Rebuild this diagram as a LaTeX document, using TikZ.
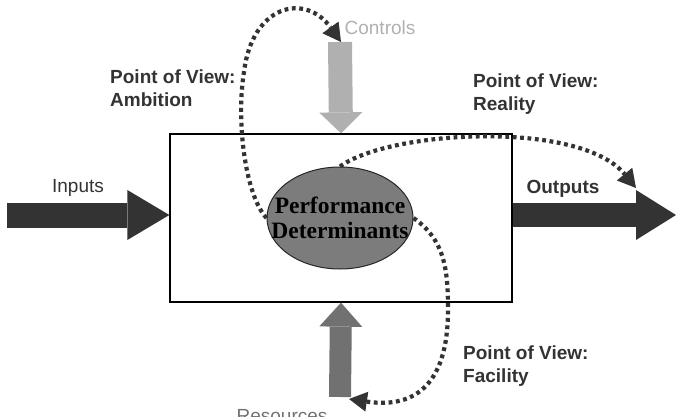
\documentclass[tikz,border=0pt]{standalone}
\usepackage{fontspec}
\setmainfont{Liberation Sans}
\newfontfamily\detfont{Liberation Serif}
\usetikzlibrary{positioning, arrows.meta, shapes.geometric}

\definecolor{darkarrow}{HTML}{333333}
\definecolor{ctrlgray}{HTML}{B0B0B0}
\definecolor{resgray}{HTML}{717171}
\definecolor{pdgray}{HTML}{7C7C7C}

\tikzset{
    sysbox/.style={draw=black, line width=1.3pt, minimum width=342pt, minimum height=168pt, inner sep=0pt},
    pdnode/.style={ellipse, draw=black!85, line width=1pt, fill=pdgray, minimum width=146pt, minimum height=102pt,
        inner sep=0pt},
    pdtext/.style={inner sep=0pt, align=center, font=\detfont\bfseries\fontsize{23.5}{25}\selectfont},
    flowarrow/.style n args={3}{line width=#1, -{Triangle[length=#2, width=#3, line width=0pt]}},
    flowlabel/.style={font=\fontsize{19}{23}\selectfont, text=darkarrow, inner sep=0pt},
    pov/.style={font=\bfseries\fontsize{19}{23}\selectfont, text=darkarrow, align=left, anchor=west, inner sep=0pt},
    view/.style={draw=darkarrow, line width=4.2pt, dash pattern=on 3.8pt off 3.6pt,
        -{Triangle[length=18pt, width=20pt, line width=0pt]}}
}

\begin{document}
\begin{tikzpicture}[x=1pt, y=-1pt]
    \useasboundingbox (0,0) rectangle (682,417);

    \node[sysbox] (sys) at (341,218) {};
    \node[pdnode] (pd) at (340,218) {};
    \node[pdtext] (pdlbl) at (pd.center) {Performance\\Determinants};

    \coordinate (in) at (7,215);
    \coordinate (out) at (676,215);
    \coordinate (ctl) at (340,42);
    \coordinate (res) at (340,397);

    \draw[flowarrow={25pt}{42pt}{50pt}, color=darkarrow] (in) -- (sys.west |- in);
    \draw[flowarrow={24pt}{40pt}{50pt}, color=darkarrow] (sys.east |- out) -- (out);
    \draw[flowarrow={24pt}{21pt}{43pt}, color=ctrlgray] (ctl) -- (sys.north);
    \draw[flowarrow={22pt}{24pt}{43pt}, color=resgray] (res) -- (sys.south);

    \node[flowlabel] (inlbl) at (78,188) {Inputs};
    \node[flowlabel, font=\bfseries\fontsize{19}{23}\selectfont] (outlbl) at (563,189) {Outputs};
    \node[flowlabel, text=ctrlgray] (ctllbl) at (380,28) {Controls};
    \node[flowlabel, text=resgray] (reslbl) at (282,416) {Resources};

    \node[pov] (amb) at (110,88) {Point of View:\\Ambition};
    \node[pov] (rea) at (473,94) {Point of View:\\Reality};
    \node[pov] (fac) at (463,366) {Point of View:\\Facility};

    % points of view
    \coordinate (ambtip) at (341,42);
    \coordinate (reatip) at (636,188);
    \coordinate (factip) at (349,399);
    \draw[view] (pd.west) .. controls (245,195) and (236,120) .. (244,72)
        .. controls (252,5) and (305,-8) .. (ambtip);
    \draw[view] (pd.north) .. controls (390,130) and (580,120) .. (reatip);
    \draw[view] (pd.east) .. controls (445,240) and (448,270) .. (448,310)
        .. controls (448,390) and (410,408) .. (factip);
\end{tikzpicture}
\end{document}
